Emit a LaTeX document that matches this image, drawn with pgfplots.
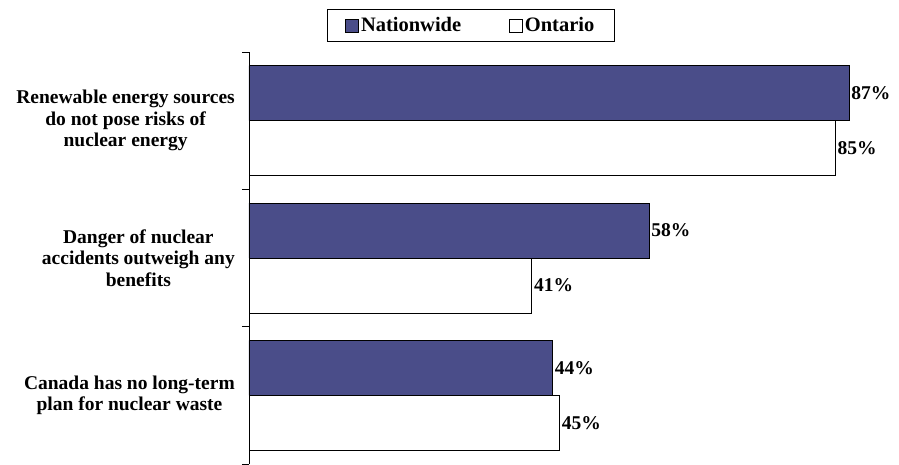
\documentclass[border=0pt]{standalone}
\usepackage{pgfplots}
\pgfplotsset{compat=1.18}
\usepackage{fontspec}
\setmainfont{Liberation Serif}
\definecolor{navy}{RGB}{74,77,137}
\newcommand{\lblfont}{\bfseries\fontsize{19.5}{21.5}\selectfont}
\begin{document}
\begin{tikzpicture}
\begin{axis}[
  name=ax,
  scale only axis,
  width=620.7pt, height=412pt,
  xmin=0, xmax=90,
  ymin=-0.5, ymax=2.5,
  y dir=reverse,
  xbar, bar width=55pt,
  axis x line=none,
  axis y line*=left,
  axis line style={-, black, line width=0.8pt},
  xtick=\empty,
  ytick={0,1,2},
  yticklabels={{Renewable energy sources\\do not pose risks of\\nuclear energy},{Danger of nuclear\\accidents outweigh any\\benefits},{Canada has no long-term\\plan for nuclear waste}},
  major tick length=0pt,
  minor ytick={-0.5,0.5,1.5,2.5},
  minor tick length=7pt,
  tick align=outside,
  tick style={black, line width=0.8pt},
  yticklabel style={align=center, font=\lblfont, anchor=east, inner sep=0pt, xshift=-14pt},
  /pgf/number format/assume math mode=true,
  nodes near coords={\pgfmathprintnumber{\pgfplotspointmeta}\%},
  nodes near coords style={font=\lblfont, anchor=west, inner sep=2pt},
  legend style={at={(0.1257,1.104)}, anchor=north west, legend columns=2, draw=black, line width=0.8pt, font=\bfseries\fontsize{20.5}{22}\selectfont, inner xsep=18pt, inner ysep=6pt,
    /tikz/every even column/.append style={column sep=46pt}},
  legend image code/.code={\draw[#1,draw=black,line width=0.6pt] (0pt,-6.5pt) rectangle (13pt,6.5pt);},
]
\addplot[fill=navy, draw=black, line width=0.8pt, bar shift=27.5pt] coordinates {(87,0) (58,1) (44,2)};
\addplot[fill=white, draw=black, line width=0.8pt, bar shift=-27.5pt] coordinates {(85,0) (41,1) (45,2)};
\legend{Nationwide, Ontario}
\end{axis}
\pgfresetboundingbox
\path (ax.south west) ++(-249pt,0pt) rectangle ++(899pt,464pt);
\end{tikzpicture}
\end{document}
